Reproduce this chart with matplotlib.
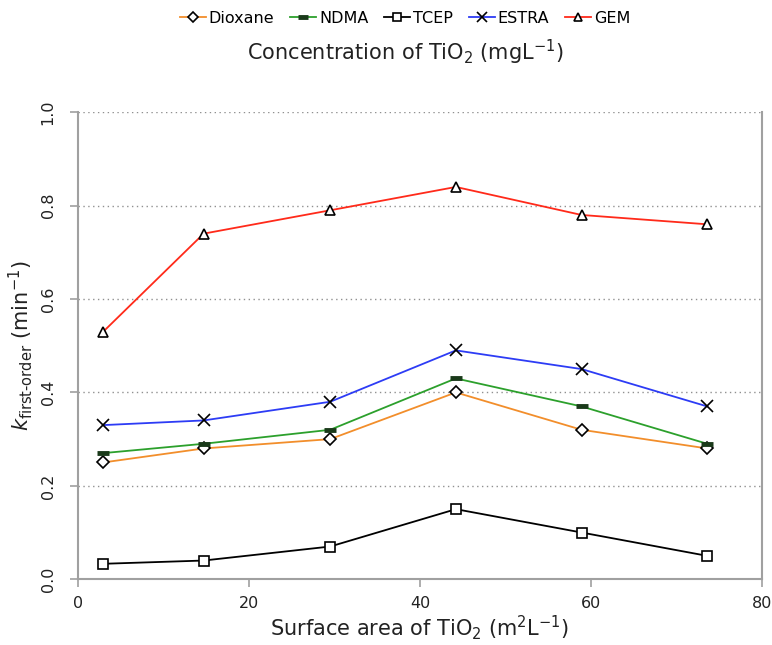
import numpy as np
import matplotlib
matplotlib.use('Agg')
import matplotlib.pyplot as plt

plt.rcParams['font.family'] = ['DejaVu Sans']
plt.rcParams['mathtext.default'] = 'regular'

# surface area of TiO2 (m2/L)
area = [2.95, 14.7, 29.5, 44.2, 58.9, 73.6]

dioxane = [0.25, 0.28, 0.30, 0.40, 0.32, 0.28]
ndma = [0.27, 0.29, 0.32, 0.43, 0.37, 0.29]
tcep = [0.033, 0.04, 0.07, 0.15, 0.10, 0.05]
estra = [0.33, 0.34, 0.38, 0.49, 0.45, 0.37]
gem = [0.53, 0.74, 0.79, 0.84, 0.78, 0.76]

labels = ['Dioxane', 'NDMA', 'TCEP', 'ESTRA', 'GEM']
colors = ['#f28e2b', '#2ca02c', '#000000', '#2d3cf5', '#ff2a1a']
markers = ['D', '_', 's', 'x', '^']
msizes = [6, 8, 7.5, 8, 7.5]

fig = plt.figure(figsize=(7.72, 6.45), dpi=100)
ax = fig.add_axes([0.101, 0.102, 0.886, 0.724])

series = [dioxane, ndma, tcep, estra, gem]
for ys, lab, c, m, ms in zip(series, labels, colors, markers, msizes):
    if m == '_':
        ax.plot(area, ys, color=c, lw=1.3, marker=m, ms=ms, mec='#1a3a1a',
                mew=3.5, label=lab)
    elif m == 'x':
        ax.plot(area, ys, color=c, lw=1.3, marker=m, ms=ms, mec='black',
                mew=1.2, label=lab)
    else:
        ax.plot(area, ys, color=c, lw=1.3, marker=m, ms=ms, mec='black',
                mfc='white', mew=1.2, label=lab)

ax.set_xlim(0, 80)
ax.set_ylim(0, 1.0)
ax.set_xticks([0, 20, 40, 60, 80])
ax.set_yticks([0.0, 0.2, 0.4, 0.6, 0.8, 1.0])
ax.set_yticklabels(['0.0', '0.2', '0.4', '0.6', '0.8', '1.0'],
                   rotation=90, va='center')
ax.tick_params(axis='both', labelsize=11.5, color='#a0a0a0', length=6,
               width=1.2, labelcolor='#222222')
ax.tick_params(axis='y', pad=10)
ax.tick_params(axis='x', pad=6)

for yv in [0.2, 0.4, 0.6, 0.8, 1.0]:
    ax.axhline(yv, color='#909090', lw=1.0, ls=(0, (1, 2.5)), zorder=0)

ax.spines['top'].set_visible(False)
for s in ['left', 'bottom', 'right']:
    ax.spines[s].set_color('#a0a0a0')
    ax.spines[s].set_linewidth(1.5)

ax.set_xlabel('Surface area of TiO$_2$ (m$^2$L$^{-1}$)', fontsize=15,
              labelpad=2, color='#222222')
ax.set_ylabel('$\\mathit{k}_{first\\text{-}order}$ (min$^{-1}$)', fontsize=15,
              labelpad=4, color='#222222')

fig.text(0.525, 0.918, 'Concentration of TiO$_2$ (mgL$^{-1}$)', fontsize=15,
         ha='center', va='center', color='#222222')

ax.legend(loc='center', ncol=5, frameon=False, fontsize=11.5, handlelength=1.6,
          handletextpad=0.2, columnspacing=1.0, borderaxespad=0.2,
          markerscale=0.85)
leg = ax.get_legend()
leg.set_bbox_to_anchor((0.525, 0.972), transform=fig.transFigure)

fig.savefig('out.png', dpi=100)
